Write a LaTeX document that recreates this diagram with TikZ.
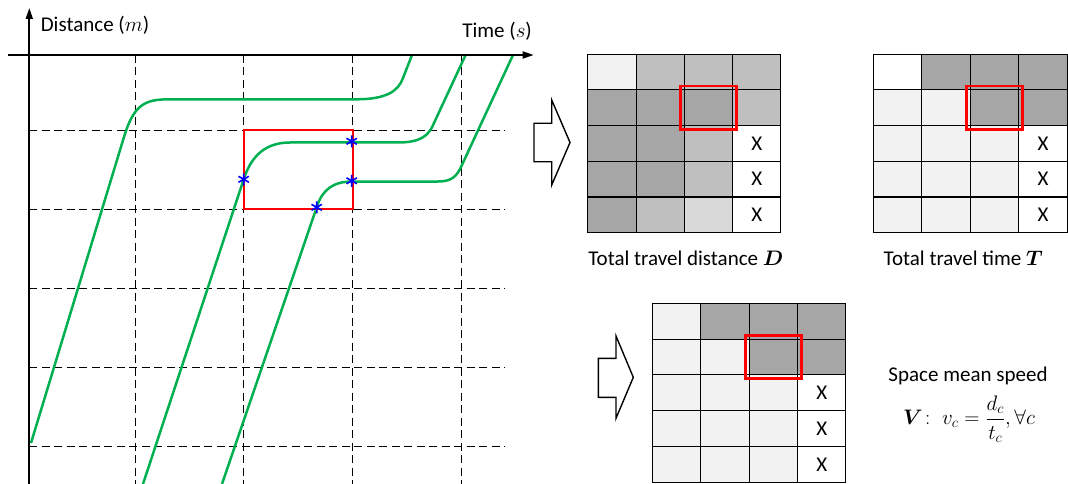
\RequirePackage{fix-cm}
\documentclass[tikz,border=0pt]{standalone}
\usepackage{amsmath}
\usepackage{bm}
\usepackage{fontspec}
\setmainfont{Carlito}
\usetikzlibrary{arrows.meta,fit}
\definecolor{cellA}{HTML}{F2F2F2}
\definecolor{cellB}{HTML}{BFBFBF}
\definecolor{cellC}{HTML}{A6A6A6}
\definecolor{cellD}{HTML}{D9D9D9}
\definecolor{cellW}{HTML}{FFFFFF}
\definecolor{trajgreen}{HTML}{00B050}
\tikzset{
  dashline/.style={draw=black, line width=0.9pt, dash pattern=on 8pt off 4.5pt},
  traj/.style={draw=trajgreen, line width=2.5pt, line join=round},
  cell/.style={draw=black, line width=0.9pt, inner sep=0pt, minimum height=35.7pt},
  redbox/.style={draw=red, line width=2.6pt, inner sep=3.4pt},
  hollow/.style={draw=black, line width=1.4pt, fill=white, line join=miter},
  axisline/.style={line width=1.8pt, -{Triangle[length=11pt,width=7pt]}},
  lbl/.style={inner sep=0pt},
  ast/.pic={\draw[blue, line width=1.6pt] (0,-6)--(0,6) (-5.2,-3)--(5.2,3) (-5.2,3)--(5.2,-3);}
}
\begin{document}
\begin{tikzpicture}[x=1pt,y=-1pt,font=\fontsize{21}{25}\selectfont]
\useasboundingbox (0,0) rectangle (1068,484);

% ---- time-space diagram ----
\foreach \x in {135.3,243.8,352.3,461.4} \draw[dashline] (\x,55) -- (\x,484);
\foreach \y in {130,209,288.3,367.3,446.7} \draw[dashline] (29.3,\y) -- (504.5,\y);

\draw[traj] (31,443) -- (124,137) .. controls (134,104) and (145,99.3) .. (170,99.3) -- (356,99.3) .. controls (385,99.3) and (398,92) .. (403,78) -- (412,55);
\draw[traj] (143,484) -- (243.7,179.3) .. controls (250,160) and (262,142.5) .. (290,142.5) -- (398,142.5) .. controls (420,142.5) and (429,136) .. (434,123) -- (465.6,55);
\draw[traj] (222,484) -- (316.7,207.3) .. controls (322,190) and (333,181.5) .. (352,181.5) -- (438,181.5) .. controls (452,181.5) and (457,176) .. (461.5,166) -- (513,55);

\draw[red, line width=2.4pt] (243.7,130) rectangle (352.7,209);
\pic at (243.7,179.3) {ast};
\pic at (351.7,141.3) {ast};
\pic at (351.7,180.8) {ast};
\pic at (316.7,207.3) {ast};

\coordinate (ybot) at (29.3,484);
\coordinate (ytop) at (29.3,8);
\coordinate (xleft) at (7.6,55);
\coordinate (xright) at (533.7,55);
\draw[axisline] (ybot) -- (ytop);
\draw[axisline] (xleft) -- (xright);
\node[lbl, anchor=west] (ylab) at (40.6,25) {Distance ($m$)};
\node[lbl, anchor=east] (xlab) at (532,31) {Time ($s$)};

% ---- hollow arrows ----
\draw[hollow] (534,123.3) -- (551.7,123.3) -- (551.7,100) -- (570,142.5) -- (551.7,185) -- (551.7,161.7) -- (534,161.7) -- cycle;
\draw[hollow] (598.3,358.3) -- (616,358.3) -- (616,336) -- (633.3,377.3) -- (616,418.3) -- (616,397.3) -- (598.3,397.3) -- cycle;

% ---- grid D ----
\foreach \r/\row in {1/{A,B,B,B},2/{C,C,C,B},3/{C,C,B,W},4/{C,C,B,W},5/{C,B,D,W}} {
  \foreach \f [count=\c] in \row {
    \node[cell, fill=cell\f, minimum width=48.3pt] (D-\r-\c) at ({587.7+48.3*(\c-0.5)},{54+35.74*(\r-0.5)}) {};
  }
}
\foreach \r in {3,4,5} \node (DX-\r) at (D-\r-4) {X};
\node[redbox, fit=(D-2-3)] (Dsel) {};
\node (capD) at (685.8,258) {Total travel distance $\bm{D}$};

% ---- grid T ----
\foreach \r/\row in {1/{W,C,C,C},2/{A,A,C,C},3/{A,A,A,W},4/{A,A,A,W},5/{A,A,A,W}} {
  \foreach \f [count=\c] in \row {
    \node[cell, fill=cell\f, minimum width=48.5pt] (T-\r-\c) at ({873.3+48.5*(\c-0.5)},{54+35.74*(\r-0.5)}) {};
  }
}
\foreach \r in {3,4,5} \node (TX-\r) at (T-\r-4) {X};
\node[redbox, fit=(T-2-3)] (Tsel) {};
\node (capT) at (963.3,258) {Total travel time $\bm{T}$};

% ---- grid V ----
\foreach \r/\row in {1/{A,C,C,C},2/{A,A,C,C},3/{A,A,A,W},4/{A,A,A,W},5/{A,A,A,W}} {
  \foreach \f [count=\c] in \row {
    \node[cell, fill=cell\f, minimum width=48.4pt, minimum height=35.8pt] (V-\r-\c) at ({652.3+48.4*(\c-0.5)},{303.3+35.8*(\r-0.5)}) {};
  }
}
\foreach \r in {3,4,5} \node (VX-\r) at (V-\r-4) {X};
\node[redbox, fit=(V-2-3)] (Vsel) {};

\node (spd) at (968,375.7) {Space mean speed};
\node (formula) at (969,419) {$\bm{V}\colon\ v_c=\dfrac{d_c}{t_c},\forall c$};
\end{tikzpicture}
\end{document}
